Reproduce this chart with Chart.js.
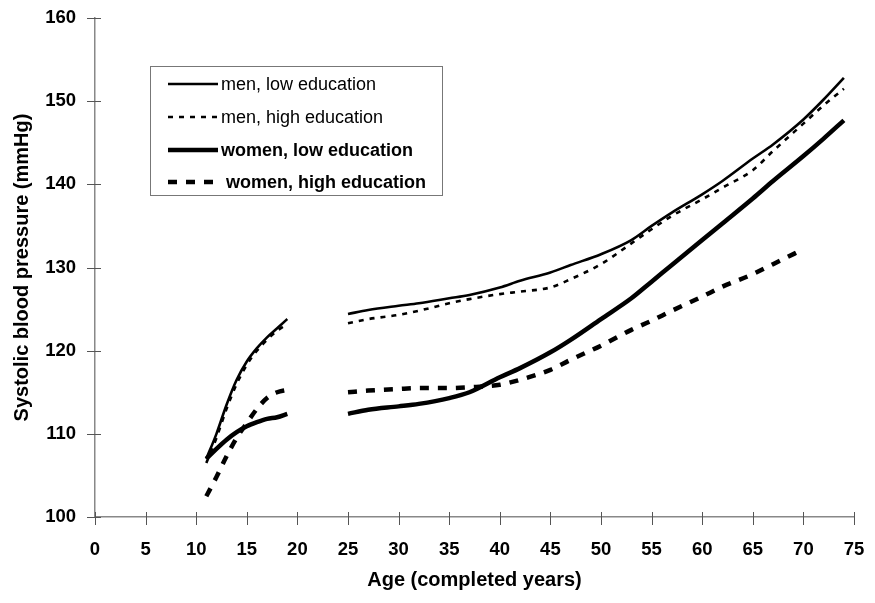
<!DOCTYPE html>
<html>
<head>
<meta charset="utf-8">
<script src="https://cdn.jsdelivr.net/npm/chart.js@4"></script>
<style>
  html, body { margin: 0; padding: 0; background: #fff; }
  #wrap { width: 875px; height: 603px; }
</style>
</head>
<body>
<div id="wrap"><canvas id="c" width="875" height="603"></canvas></div>
<script>
// Ages (completed years) for the two measured age ranges
const youthAges = [11, 12, 13, 14, 15, 16, 17, 18, 19];
const adultAges = [25, 27, 30, 32, 35, 37, 40, 42, 45, 47, 50, 53, 55, 57, 60, 62, 65, 67, 70, 72, 74];

// Systolic blood pressure (mmHg)
const menLowYouth    = [107.0, 110.0, 113.5, 116.5, 118.7, 120.3, 121.6, 122.7, 123.8];
const menHighYouth   = [106.5, 109.5, 113.0, 116.0, 118.3, 120.0, 121.3, 122.4, 123.2];
const womenLowYouth  = [107.0, 108.2, 109.3, 110.2, 110.9, 111.4, 111.8, 112.0, 112.4];
const womenHighYouth = [102.5, 104.8, 107.3, 109.5, 111.3, 113.0, 114.3, 115.0, 115.3];

const menLowAdult    = [124.4, 124.9, 125.4, 125.7, 126.3, 126.7, 127.6, 128.4, 129.4, 130.3, 131.6, 133.3, 135.0, 136.6, 138.8, 140.4, 143.1, 144.8, 147.8, 150.2, 152.8];
const menHighAdult   = [123.3, 123.8, 124.3, 124.8, 125.7, 126.2, 126.8, 127.1, 127.6, 128.6, 130.4, 132.9, 134.6, 136.2, 138.2, 139.6, 141.7, 144.0, 147.3, 149.5, 151.5];
const womenLowAdult  = [112.4, 112.9, 113.3, 113.6, 114.3, 115.0, 116.8, 117.9, 119.8, 121.3, 123.8, 126.3, 128.3, 130.3, 133.3, 135.3, 138.3, 140.4, 143.4, 145.5, 147.7];
const womenHighAdult = [115.0, 115.2, 115.4, 115.5, 115.5, 115.6, 115.9, 116.5, 117.7, 118.9, 120.6, 122.5, 123.6, 124.8, 126.5, 127.7, 129.2, 130.4, 132.2];

const seriesLabels = ['men, low education', 'men, high education', 'women, low education', 'women, high education'];
const xTicks = [0, 5, 10, 15, 20, 25, 30, 35, 40, 45, 50, 55, 60, 65, 70, 75];
const yTicks = [100, 110, 120, 130, 140, 150, 160];

// Join both age ranges into one point list, with a break between them
function toPoints(youth, adult) {
  const pts = youth.map((v, i) => ({ x: youthAges[i], y: v }));
  pts.push({ x: 22, y: null });
  adult.forEach((v, i) => pts.push({ x: adultAges[i], y: v }));
  return pts;
}

const FONT = '"Liberation Sans", Arial, Helvetica, sans-serif';

const styles = [
  { borderWidth: 2.6, borderDash: [],      bold: false },
  { borderWidth: 2.6, borderDash: [5, 6],  bold: false },
  { borderWidth: 4.5, borderDash: [],      bold: true },
  { borderWidth: 4.5, borderDash: [9, 9],  bold: true }
];

const datasets = [
  toPoints(menLowYouth, menLowAdult),
  toPoints(menHighYouth, menHighAdult),
  toPoints(womenLowYouth, womenLowAdult),
  toPoints(womenHighYouth, womenHighAdult)
].map((data, i) => ({
  label: seriesLabels[i],
  data,
  borderColor: '#000',
  backgroundColor: '#000',
  borderWidth: styles[i].borderWidth,
  borderDash: styles[i].borderDash,
  pointRadius: 0,
  fill: false,
  spanGaps: false,
  cubicInterpolationMode: 'monotone'
}));

// Tick marks that cross both axes
const crossTicks = {
  id: 'crossTicks',
  afterDraw(chart) {
    const ctx = chart.ctx;
    const xs = chart.scales.x, ys = chart.scales.y;
    ctx.save();
    ctx.strokeStyle = '#555';
    ctx.lineWidth = 1;
    ctx.beginPath();
    xs.ticks.forEach(t => {
      const px = Math.round(xs.getPixelForValue(t.value)) + 0.5;
      ctx.moveTo(px, xs.top - 5);
      ctx.lineTo(px, xs.top + 8);
    });
    ys.ticks.forEach(t => {
      const py = Math.round(ys.getPixelForValue(t.value)) + 0.5;
      ctx.moveTo(ys.right - 8, py);
      ctx.lineTo(ys.right + 6, py);
    });
    ctx.stroke();
    ctx.restore();
  }
};

// Boxed legend drawn inside the plot area
const boxLegend = {
  id: 'boxLegend',
  afterDraw(chart) {
    const ctx = chart.ctx;
    const box = { x: 150.5, y: 66.5, w: 292, h: 129 };
    const rows = [84, 117, 150, 182];
    ctx.save();
    ctx.strokeStyle = '#777';
    ctx.lineWidth = 1;
    ctx.strokeRect(box.x, box.y, box.w, box.h);
    chart.data.datasets.forEach((ds, i) => {
      const y = rows[i];
      ctx.beginPath();
      ctx.strokeStyle = '#000';
      ctx.lineWidth = ds.borderWidth;
      ctx.setLineDash(ds.borderDash || []);
      ctx.moveTo(168, y);
      ctx.lineTo(218, y);
      ctx.stroke();
      ctx.setLineDash([]);
      ctx.fillStyle = '#000';
      ctx.font = (styles[i].bold ? 'bold ' : '') + '18px ' + FONT;
      ctx.textBaseline = 'middle';
      ctx.textAlign = 'left';
      ctx.fillText(ds.label, i === 3 ? 226 : 221, y + 1);
    });
    ctx.restore();
  }
};

new Chart(document.getElementById('c'), {
  type: 'line',
  data: { datasets },
  plugins: [crossTicks, boxLegend],
  options: {
    responsive: false,
    animation: false,
    layout: { padding: { left: 10, right: 21, top: 18, bottom: 0 } },
    plugins: { legend: { display: false }, tooltip: { enabled: false } },
    scales: {
      x: {
        type: 'linear',
        min: 0, max: 75,
        afterBuildTicks: (s) => { s.ticks = xTicks.map(v => ({ value: v })); },
        afterFit: (s) => { s.height = 86; },
        border: { display: true, color: '#888', width: 1.5 },
        grid: { drawOnChartArea: false, drawTicks: true, tickLength: 22, tickColor: 'rgba(0,0,0,0)' },
        ticks: { color: '#000', padding: 0, font: { family: FONT, size: 18.5, weight: 'bold' } },
        title: {
          display: true,
          text: 'Age (completed years)',
          color: '#000',
          padding: { top: 0, bottom: 11 },
          font: { family: FONT, size: 20, weight: 'bold' }
        }
      },
      y: {
        type: 'linear',
        min: 100, max: 160,
        afterBuildTicks: (s) => { s.ticks = yTicks.map(v => ({ value: v })); },
        afterFit: (s) => { s.width = 85; },
        border: { display: true, color: '#888', width: 1.5 },
        grid: { drawOnChartArea: false, drawTicks: true, tickLength: 19, tickColor: 'rgba(0,0,0,0)' },
        ticks: { color: '#000', padding: 0, font: { family: FONT, size: 18.5, weight: 'bold' } },
        title: {
          display: true,
          text: 'Systolic blood pressure (mmHg)',
          color: '#000',
          padding: { top: 0, bottom: 0 },
          font: { family: FONT, size: 20, weight: 'bold' }
        }
      }
    }
  }
});
</script>
</body>
</html>
